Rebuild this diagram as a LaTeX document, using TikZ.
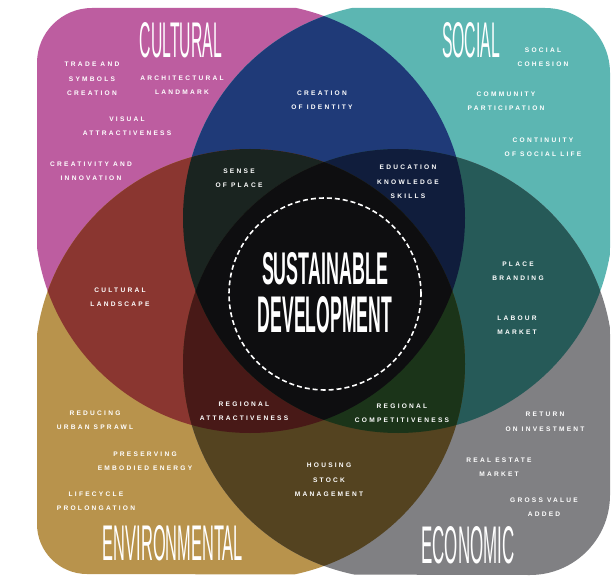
\documentclass[tikz,border=0pt]{standalone}
\usepackage{fontspec}
\usepackage{graphicx}
\setmainfont{Liberation Sans}
\newfontfamily\lblfont[LetterSpace=34]{Liberation Sans}
\newfontfamily\ttlfont{Liberation Sans}
\definecolor{cCul}{RGB}{189,93,160}
\definecolor{cSoc}{RGB}{92,182,178}
\definecolor{cEnv}{RGB}{184,147,76}
\definecolor{cEco}{RGB}{128,128,131}
\definecolor{cCS}{RGB}{31,58,120}
\definecolor{cCE}{RGB}{138,54,48}
\definecolor{cSEc}{RGB}{38,90,88}
\definecolor{cEEc}{RGB}{84,67,32}
\definecolor{cCSE}{RGB}{26,36,32}
\definecolor{cCSEc}{RGB}{16,29,60}
\definecolor{cCEEc}{RGB}{72,25,23}
\definecolor{cSEEc}{RGB}{27,52,25}
\definecolor{cAll}{RGB}{14,14,16}
% set outlines
\newcommand\clipC{\clip (0,0) -- (250,0) -- (250,3) arc[start angle=90,end angle=-180,radius=215pt] -- (0,218) -- cycle;}
\newcommand\clipS{\clip (615,0) -- (615,218) -- (613,218) arc[start angle=0,end angle=-270,radius=215pt] -- (398,0) -- cycle;}
\newcommand\clipE{\clip (0,580) -- (0,364) -- (35,364) arc[start angle=180,end angle=-90,radius=215pt] -- (250,580) -- cycle;}
\newcommand\fillC[1]{\fill[#1] (0,0) -- (250,0) -- (250,3) arc[start angle=90,end angle=-180,radius=215pt] -- (0,218) -- cycle;}
\newcommand\fillS[1]{\fill[#1] (615,0) -- (615,218) -- (613,218) arc[start angle=0,end angle=-270,radius=215pt] -- (398,0) -- cycle;}
\newcommand\fillE[1]{\fill[#1] (0,580) -- (0,364) -- (35,364) arc[start angle=180,end angle=-90,radius=215pt] -- (250,580) -- cycle;}
\newcommand\fillEc[1]{\fill[#1] (615,580) -- (398,580) -- (398,579) arc[start angle=270,end angle=0,radius=215pt] -- (615,364) -- cycle;}
\tikzset{
  lbl/.style={text=white, align=center, inner sep=0pt,
    font=\lblfont\bfseries\fontsize{6.6pt}{14.5pt}\selectfont},
  ttl/.style={text=white, inner sep=0pt},
}
\begin{document}
\begin{tikzpicture}[x=1pt,y=-1pt]
\useasboundingbox[fill=white] (0,0) rectangle (615,577);
\begin{scope}
  \clip (37,63) arc[start angle=180,end angle=90,radius=55pt] -- (545,8)
    arc[start angle=90,end angle=0,radius=65pt] -- (610,495)
    arc[start angle=0,end angle=-90,radius=80pt] -- (87,574)
    arc[start angle=-90,end angle=-180,radius=50pt] -- cycle;
  % single sets
  \fillC{cCul}
  \fillS{cSoc}
  \fillE{cEnv}
  \fillEc{cEco}
  % pairs
  \begin{scope}\clipC \fillS{cCS} \end{scope}
  \begin{scope}\clipC \fillE{cCE} \end{scope}
  \begin{scope}\clipS \fillEc{cSEc} \end{scope}
  \begin{scope}\clipE \fillEc{cEEc} \end{scope}
  % triples
  \begin{scope}\clipC \clipS \fillE{cCSE} \end{scope}
  \begin{scope}\clipC \clipS \fillEc{cCSEc} \end{scope}
  \begin{scope}\clipC \clipE \fillEc{cCEEc} \end{scope}
  \begin{scope}\clipS \clipE \fillEc{cSEEc} \end{scope}
  % all four
  \begin{scope}\clipC \clipS \clipE \fillEc{cAll} \end{scope}
\end{scope}

\coordinate (ringc) at (325,294);
\draw[white, line width=1.6pt, dash pattern=on 5pt off 3pt] (ringc) circle[radius=96pt];

% titles
\node[ttl] (cul) at (181,40) {\resizebox{82pt}{35pt}{\ttlfont CULTURAL}};
\node[ttl] (soc) at (471,40) {\resizebox{58pt}{35pt}{\ttlfont SOCIAL}};
\node[ttl] (env) at (173,543) {\resizebox{140pt}{35pt}{\ttlfont ENVIRONMENTAL}};
\node[ttl] (eco) at (468,545) {\resizebox{93pt}{37pt}{\ttlfont ECONOMIC}};
\node[ttl] (sus) at (325,269) {\resizebox{126pt}{32pt}{\bfseries SUSTAINABLE}};
\node[ttl] (dev) at (325,315) {\resizebox{134pt}{36pt}{\bfseries DEVELOPMENT}};

% labels
\node[lbl] (t1) at (92,79) {TRADE AND\\SYMBOLS\\CREATION};
\node[lbl] (t2) at (182,85) {ARCHITECTURAL\\LANDMARK};
\node[lbl] (t3) at (127,126) {VISUAL\\ATTRACTIVENESS};
\node[lbl] (t4) at (91,171) {CREATIVITY AND\\INNOVATION};
\node[lbl] (t5) at (322,100) {CREATION\\OF IDENTITY};
\node[lbl] (t6) at (239,178) {SENSE\\OF PLACE};
\node[lbl] (t7) at (408,182) {EDUCATION\\KNOWLEDGE\\SKILLS};
\node[lbl] (t8) at (543,57) {SOCIAL\\COHESION};
\node[lbl] (t9) at (506,101) {COMMUNITY\\PARTICIPATION};
\node[lbl] (t10) at (543,147) {CONTINUITY\\OF SOCIAL LIFE};
\node[lbl] (t11) at (518,271) {PLACE\\BRANDING};
\node[lbl] (t12) at (517,325) {LABOUR\\MARKET};
\node[lbl] (t13) at (120,297) {CULTURAL\\LANDSCAPE};
\node[lbl] (t14) at (244,411) {REGIONAL\\ATTRACTIVENESS};
\node[lbl] (t15) at (402,413) {REGIONAL\\COMPETITIVENESS};
\node[lbl] (t16) at (329,480) {HOUSING\\STOCK\\MANAGEMENT};
\node[lbl] (t17) at (95,420) {REDUCING\\URBAN SPRAWL};
\node[lbl] (t18) at (145,461) {PRESERVING\\EMBODIED ENERGY};
\node[lbl] (t19) at (96,501) {LIFECYCLE\\PROLONGATION};
\node[lbl] (t20) at (545,422) {RETURN\\ON INVESTMENT};
\node[lbl] (t21) at (499,467) {REAL ESTATE\\MARKET};
\node[lbl] (t22) at (544,507) {GROSS VALUE\\ADDED};
\end{tikzpicture}
\end{document}
